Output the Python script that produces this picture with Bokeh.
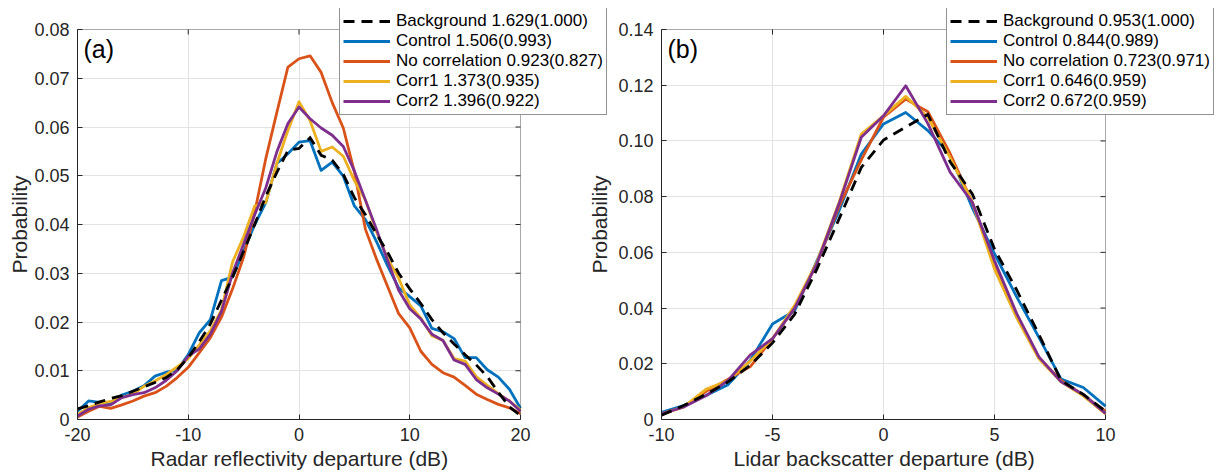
import math
from bokeh.plotting import figure
from bokeh.models import (Range1d, FixedTicker, CustomJSTickFormatter, Legend, LegendItem,
                          Label, BoxAnnotation, Title)
from bokeh.layouts import row
from bokeh.embed import file_html
from bokeh.resources import INLINE

# ---------------- data: panel (a) radar reflectivity ----------------
x_a = list(range(-20, 21))
background_a = [0.0022, 0.0028, 0.0036, 0.0043, 0.0049, 0.0058, 0.0067, 0.0076, 0.0086, 0.0102,
                0.0127, 0.0160, 0.0196, 0.0245, 0.0292, 0.0345, 0.0400, 0.0458, 0.0507, 0.0552,
                0.0556, 0.0578, 0.0542, 0.0532, 0.0503, 0.0455, 0.0420, 0.0380, 0.0343, 0.0300,
                0.0268, 0.0238, 0.0205, 0.0178, 0.0155, 0.0133, 0.0112, 0.0088, 0.0056, 0.0026,
                0.0008]
control_a = [0.0017, 0.0038, 0.0035, 0.0034, 0.0050, 0.0058, 0.0069, 0.0089, 0.0097, 0.0101,
             0.0133, 0.0178, 0.0205, 0.0285, 0.0292, 0.0345, 0.0400, 0.0445, 0.0525, 0.0545,
             0.0569, 0.0572, 0.0511, 0.0528, 0.0499, 0.0438, 0.0410, 0.0365, 0.0315, 0.0270,
             0.0252, 0.0233, 0.0187, 0.0180, 0.0166, 0.0127, 0.0127, 0.0102, 0.0087, 0.0062,
             0.0023]
nocorr_a = [0.0005, 0.0017, 0.0027, 0.0023, 0.0030, 0.0038, 0.0048, 0.0055, 0.0068, 0.0086,
            0.0107, 0.0137, 0.0168, 0.0210, 0.0268, 0.0333, 0.0425, 0.0535, 0.0630, 0.0723,
            0.0740, 0.0746, 0.0712, 0.0650, 0.0598, 0.0508, 0.0390, 0.0329, 0.0273, 0.0217,
            0.0188, 0.0140, 0.0113, 0.0096, 0.0087, 0.0070, 0.0052, 0.0041, 0.0031, 0.0024,
            0.0012]
corr1_a = [0.0010, 0.0024, 0.0033, 0.0037, 0.0045, 0.0052, 0.0068, 0.0079, 0.0092, 0.0108,
           0.0125, 0.0153, 0.0182, 0.0225, 0.0323, 0.0375, 0.0438, 0.0445, 0.0525, 0.0593,
           0.0652, 0.0613, 0.0550, 0.0559, 0.0540, 0.0490, 0.0450, 0.0385, 0.0330, 0.0290,
           0.0235, 0.0208, 0.0172, 0.0162, 0.0125, 0.0120, 0.0088, 0.0070, 0.0053, 0.0038,
           0.0020]
corr2_a = [0.0007, 0.0021, 0.0028, 0.0030, 0.0045, 0.0051, 0.0055, 0.0065, 0.0080, 0.0100,
           0.0130, 0.0145, 0.0175, 0.0222, 0.0300, 0.0360, 0.0420, 0.0475, 0.0549, 0.0607,
           0.0641, 0.0617, 0.0598, 0.0583, 0.0560, 0.0510, 0.0450, 0.0390, 0.0326, 0.0265,
           0.0227, 0.0206, 0.0175, 0.0162, 0.0122, 0.0113, 0.0082, 0.0065, 0.0052, 0.0038,
           0.0017]
labels_a = ["Background 1.629(1.000)", "Control 1.506(0.993)", "No correlation 0.923(0.827)",
            "Corr1 1.373(0.935)", "Corr2 1.396(0.922)"]
xticks_a = [-20, -10, 0, 10, 20]
yticks_a = [0, 0.01, 0.02, 0.03, 0.04, 0.05, 0.06, 0.07, 0.08]

# ---------------- data: panel (b) lidar backscatter ----------------
x_b = list(range(-10, 11))
background_b = [0.0015, 0.0050, 0.0090, 0.0135, 0.0195, 0.0275, 0.0378, 0.0540, 0.0720, 0.0905,
                0.1003, 0.1050, 0.1095, 0.0925, 0.0810, 0.0612, 0.0465, 0.0305, 0.0140, 0.0090,
                0.0030]
control_b = [0.0026, 0.0050, 0.0086, 0.0125, 0.0212, 0.0343, 0.0391, 0.0570, 0.0750, 0.0953,
             0.1061, 0.1102, 0.1037, 0.0950, 0.0760, 0.0595, 0.0440, 0.0295, 0.0145, 0.0115,
             0.0048]
nocorr_b = [0.0020, 0.0045, 0.0100, 0.0145, 0.0190, 0.0290, 0.0400, 0.0560, 0.0765, 0.0932,
            0.1085, 0.1150, 0.1105, 0.0955, 0.0780, 0.0560, 0.0375, 0.0222, 0.0140, 0.0087,
            0.0030]
corr1_b = [0.0020, 0.0045, 0.0108, 0.0140, 0.0210, 0.0290, 0.0410, 0.0565, 0.0780, 0.1025,
           0.1090, 0.1160, 0.1085, 0.0940, 0.0780, 0.0540, 0.0365, 0.0218, 0.0135, 0.0085,
           0.0020]
corr2_b = [0.0020, 0.0045, 0.0085, 0.0140, 0.0232, 0.0290, 0.0400, 0.0560, 0.0775, 0.1013,
           0.1090, 0.1198, 0.1062, 0.0888, 0.0780, 0.0570, 0.0380, 0.0225, 0.0135, 0.0090,
           0.0022]
labels_b = ["Background 0.953(1.000)", "Control 0.844(0.989)", "No correlation 0.723(0.971)",
            "Corr1 0.646(0.959)", "Corr2 0.672(0.959)"]
xticks_b = [-10, -5, 0, 5, 10]
yticks_b = [0, 0.02, 0.04, 0.06, 0.08, 0.1, 0.12, 0.14]

COLORS = ["black", "#0072BD", "#D95319", "#EDB120", "#7E2F8E"]
FONT = "Liberation Sans"
TXT = "#262626"
TICK_FS = "18px"
LABEL_FS = "21px"
LEG_FS = "17px"
GRID = "#e3e3e3"

# pixel geometry of the axes boxes (layout only)
H = 474
BOX_TOP, BOX_BOTTOM = 29, 419
FRAME_TOP = 8


def style_axis(ax):
    ax.axis_line_color = TXT
    ax.major_tick_line_color = TXT
    ax.major_tick_in = 5
    ax.major_tick_out = 0
    ax.minor_tick_line_color = None
    ax.major_label_text_font = FONT
    ax.major_label_text_color = TXT
    ax.major_label_text_font_size = TICK_FS
    ax.major_label_standoff = 8


def axis_title(text, offset):
    return Title(text=text, align="left", offset=offset, standoff=2, text_font=FONT,
                 text_font_size=LABEL_FS, text_font_style="normal", text_color=TXT)


def make_panel(canvas_left, canvas_right, box_left, box_right, xs, series, labels, xr, yr,
               xticks, yticks, xlabel, xlabel_offset, ylabel, legend_left, tag):
    width = canvas_right - canvas_left
    bl = box_left - canvas_left
    x0, x1 = xr
    y0, y1 = yr
    px_x = (x1 - x0) / (box_right - box_left)     # data units per pixel
    px_y = (y1 - y0) / (BOX_BOTTOM - BOX_TOP)
    # the frame reaches past the box so that the legend can stick out of it
    x_end = x1 + (canvas_right - box_right) * px_x
    y_end = y1 + (BOX_TOP - FRAME_TOP) * px_y

    p = figure(width=width, height=H, output_backend="svg", toolbar_location=None,
               x_range=Range1d(x0, x_end), y_range=Range1d(y0, y_end),
               min_border_left=bl, min_border_right=0, min_border_top=FRAME_TOP,
               min_border_bottom=H - BOX_BOTTOM)
    p.background_fill_color = "white"
    p.border_fill_color = "white"
    p.outline_line_color = None

    xt = FixedTicker(ticks=xticks)
    yt = FixedTicker(ticks=yticks)
    p.xaxis.ticker = xt
    p.yaxis.ticker = yt
    p.xaxis.formatter = CustomJSTickFormatter(code="return tick.toFixed(0);")
    p.yaxis.formatter = CustomJSTickFormatter(
        code="return Math.abs(tick) < 1e-9 ? '0' : tick.toFixed(2);")
    for ax in p.xaxis:
        style_axis(ax)
        ax.bounds = (x0, x1)
    for ax in p.yaxis:
        style_axis(ax)
        ax.bounds = (y0, y1)

    # axis titles centred on the box (not on the wider frame)
    p.add_layout(axis_title(xlabel, xlabel_offset), "below")
    if ylabel:
        p.add_layout(axis_title(ylabel, 146), "left")

    for g in list(p.xgrid) + list(p.ygrid):
        g.grid_line_color = GRID
        g.grid_line_width = 1
    p.xgrid.bounds = (x0, x1)
    p.ygrid.bounds = (y0, y1)
    if "cross_bounds" in p.xgrid[0].properties():
        p.xgrid.cross_bounds = (y0, y1)
        p.ygrid.cross_bounds = (x0, x1)

    # closed box around the axes with inward ticks on top and right
    p.add_layout(BoxAnnotation(left=x0, right=x1, bottom=y0, top=y1, fill_alpha=0,
                               line_color=TXT, line_width=1, level="overlay"))
    p.segment(x0=xticks, y0=[y1] * len(xticks), x1=xticks, y1=[y1 - 5 * px_y] * len(xticks),
              line_color=TXT, line_width=1)
    p.segment(x0=[x1] * len(yticks), y0=yticks, x1=[x1 - 5 * px_x] * len(yticks), y1=yticks,
              line_color=TXT, line_width=1)

    renderers = {}
    for i in [1, 2, 3, 4, 0]:
        kw = dict(line_color=COLORS[i], line_width=2.8, line_join="round")
        if i == 0:
            kw["line_dash"] = "11 7"
            kw["line_join"] = "miter"
        renderers[i] = p.line(xs, series[i], **kw)
    items = [LegendItem(label=labels[i], renderers=[renderers[i]]) for i in range(5)]
    leg = Legend(items=items, location=(legend_left - box_left, BOX_BOTTOM - 115))
    leg.label_text_font = FONT
    leg.label_text_font_size = LEG_FS
    leg.label_text_color = "black"
    leg.glyph_width = 47
    leg.glyph_height = 20
    leg.label_height = 20
    leg.label_standoff = 6
    leg.spacing = 0
    leg.padding = 3
    leg.margin = 0
    leg.border_line_color = TXT
    leg.border_line_width = 1
    leg.background_fill_color = "white"
    leg.background_fill_alpha = 1
    p.add_layout(leg, "center")

    p.add_layout(Label(x=x0 + 6 * px_x, y=y1 - 5 * px_y, text=tag, text_font=FONT,
                       text_font_size="25px", text_color="black",
                       text_align="left", text_baseline="top"))
    return p, px_x, px_y


p1, pxa, pya = make_panel(0, 613, 77, 520, x_a,
                          [background_a, control_a, nocorr_a, corr1_a, corr2_a], labels_a,
                          (-20, 20), (0, 0.08), xticks_a, yticks_a,
                          "Radar reflectivity departure (dB)", 73, "Probability", 339, "(a)")
p2, pxb, pyb = make_panel(613, 1219, 661, 1105, x_b,
                          [background_b, control_b, nocorr_b, corr1_b, corr2_b], labels_b,
                          (-10, 10), (0, 0.14), xticks_b, yticks_b,
                          "Lidar backscatter departure (dB)", 72, None, 946, "(b)")

# y-axis title of panel (b) sits in the gap left of its axis (inside figure (a)'s canvas)
p1.add_layout(Label(x=-20 + (599 - 77) * pxa, y=0.04, text="Probability", text_font=FONT,
                    text_font_size=LABEL_FS, text_color=TXT, angle=math.pi / 2,
                    text_align="center", text_baseline="middle"))

layout = row(p1, p2, spacing=0)
open("out.html", "w").write(file_html(layout, INLINE))
